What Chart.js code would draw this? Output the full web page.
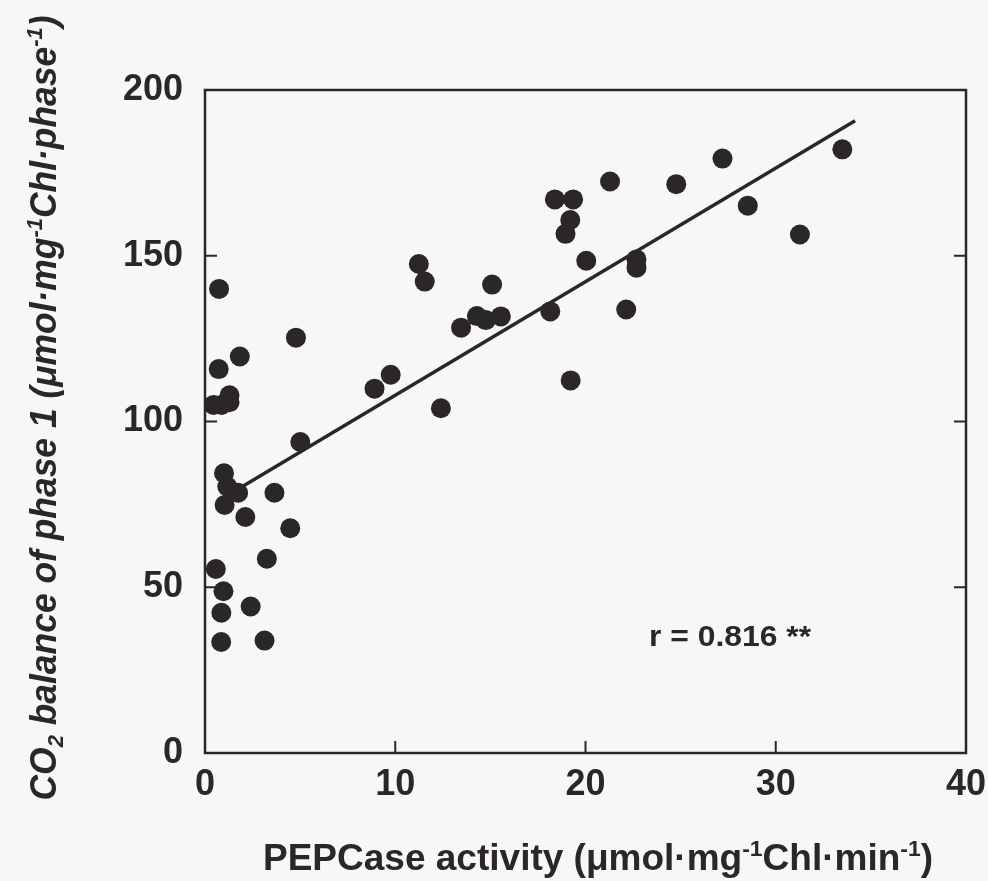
<!DOCTYPE html>
<html>
<head>
<meta charset="utf-8">
<script src="https://cdn.jsdelivr.net/npm/chart.js@4.4.1/dist/chart.umd.min.js"></script>
<style>
  html, body { margin: 0; padding: 0; background: #f7f7f9; }
  #wrap { width: 988px; height: 881px; }
</style>
</head>
<body>
<div id="wrap"><canvas id="myChart" width="988" height="881"></canvas></div>
<script>
// PEPCase activity (x) vs CO2 balance of phase 1 (y)
var pepX = [0.74, 0.72, 0.45, 0.87, 1.29, 1.29, 1.83, 4.78, 8.91, 9.76,
            12.4, 5.01, 1.0, 1.17, 1.74, 1.03, 2.12, 3.65, 4.48, 3.25,
            0.57, 0.97, 2.4, 0.86, 0.85, 3.13, 11.24, 11.55, 15.09, 13.46,
            14.29, 14.76, 15.55, 18.15, 19.22, 22.14, 22.68, 22.68, 20.04, 18.39,
            19.35, 19.2, 18.95, 21.29, 24.77, 27.2, 28.53, 31.27, 33.5];
var co2Y = [140.0, 115.8, 105.0, 105.0, 107.9, 105.8, 119.6, 125.3, 109.9, 114.1,
            104.0, 93.8, 84.4, 80.4, 78.5, 74.8, 71.2, 78.5, 67.8, 58.6,
            55.5, 48.8, 44.2, 42.3, 33.5, 33.9, 147.5, 142.2, 141.3, 128.3,
            131.8, 130.6, 131.7, 133.2, 112.4, 133.8, 148.9, 146.4, 148.5, 167.0,
            167.0, 160.8, 156.6, 172.4, 171.6, 179.3, 165.1, 156.4, 182.1];

// regression line end points
var fitX = [1.9, 34.17];
var fitY = [80.2, 190.7];

var xTicks = [0, 10, 20, 30, 40];
var yTicks = [0, 50, 100, 150, 200];

var ink = '#2b2628';

var points = pepX.map(function(v, i) { return { x: v, y: co2Y[i] }; });
var fit = fitX.map(function(v, i) { return { x: v, y: fitY[i] }; });

// draws text made of pieces, some raised or lowered, squeezed to a width
function richText(ctx, parts, size, style, cx, cy, width, angle) {
    ctx.save();
    ctx.translate(cx, cy);
    ctx.rotate(angle);
    var total = 0;
    parts.forEach(function(p) {
        var s = p.s ? size * 0.62 : size;
        ctx.font = style + ' ' + s + 'px "Liberation Sans", Arial, sans-serif';
        p.w = ctx.measureText(p.t).width;
        total += p.w;
    });
    var k = width / total;
    ctx.scale(k, 1);
    ctx.fillStyle = ink;
    ctx.textBaseline = 'alphabetic';
    var x = -total / 2;
    parts.forEach(function(p) {
        var s = p.s ? size * 0.62 : size;
        ctx.font = style + ' ' + s + 'px "Liberation Sans", Arial, sans-serif';
        var dy = size * 0.36;
        if (p.s === 'up') dy -= size * 0.38;
        if (p.s === 'down') dy += size * 0.2;
        ctx.fillText(p.t, x, dy);
        x += p.w;
    });
    ctx.restore();
}

var framePlugin = {
    id: 'frame',
    afterDraw: function(chart) {
        var ctx = chart.ctx;
        var a = chart.chartArea;
        var xs = chart.scales.x, ys = chart.scales.y;
        ctx.save();
        ctx.strokeStyle = ink;
        ctx.lineWidth = 2.5;
        ctx.strokeRect(a.left, a.top, a.right - a.left, a.bottom - a.top);
        ctx.lineWidth = 2;
        ctx.beginPath();
        xTicks.slice(1, -1).forEach(function(v) {
            var px = xs.getPixelForValue(v);
            ctx.moveTo(px, a.bottom);
            ctx.lineTo(px, a.bottom - 12);
        });
        yTicks.slice(1, -1).forEach(function(v) {
            var py = ys.getPixelForValue(v);
            ctx.moveTo(a.left, py);
            ctx.lineTo(a.left + 12, py);
            ctx.moveTo(a.right, py);
            ctx.lineTo(a.right - 12, py);
        });
        ctx.stroke();
        ctx.restore();

        // r value
        richText(ctx, [{ t: 'r = 0.816 **' }], 29, 'bold',
                 xs.getPixelForValue(27.6), ys.getPixelForValue(35.3), 162, 0);

        // axis titles
        richText(ctx, [
            { t: 'PEPCase activity (\u03bcmol\u00b7mg' }, { t: '-1', s: 'up' },
            { t: 'Chl\u00b7min' }, { t: '-1', s: 'up' }, { t: ')' }
        ], 36, 'bold', 598, 857, 670, 0);

        richText(ctx, [
            { t: 'CO' }, { t: '2', s: 'down' },
            { t: ' balance of phase 1 (\u03bcmol\u00b7mg' }, { t: '-1', s: 'up' },
            { t: 'Chl\u00b7phase' }, { t: '-1', s: 'up' }, { t: ')' }
        ], 36, 'italic bold', 43, 408, 785, -Math.PI / 2);
    }
};

var ctx = document.getElementById('myChart').getContext('2d');

var myChart = new Chart(ctx, {
    type: 'scatter',
    data: {
        datasets: [{
            data: points,
            backgroundColor: ink,
            borderColor: ink,
            pointRadius: 10,
            pointHoverRadius: 10,
            borderWidth: 0
        }, {
            type: 'line',
            data: fit,
            borderColor: ink,
            borderWidth: 3.5,
            pointRadius: 0,
            fill: false
        }]
    },
    options: {
        responsive: false,
        animation: false,
        events: [],
        plugins: {
            legend: { display: false },
            tooltip: { enabled: false }
        },
        layout: {
            padding: { left: 0, right: 22, top: 90, bottom: 0 }
        },
        scales: {
            x: {
                type: 'linear',
                min: 0,
                max: 40,
                afterBuildTicks: function(s) { s.ticks = xTicks.map(function(v) { return { value: v }; }); },
                afterFit: function(s) {
                    s.height = 128;
                    s.paddingLeft = 0;
                    s.paddingRight = 0;
                },
                grid: { display: false, drawTicks: false },
                border: { display: false },
                ticks: {
                    padding: 10,
                    color: ink,
                    font: { family: '"Liberation Sans", Arial, sans-serif', size: 36, weight: 'bold' },
                    maxRotation: 0
                }
            },
            y: {
                type: 'linear',
                min: 0,
                max: 200,
                afterBuildTicks: function(s) { s.ticks = yTicks.map(function(v) { return { value: v }; }); },
                afterFit: function(s) {
                    s.width = 205;
                    s.paddingTop = 0;
                    s.paddingBottom = 0;
                },
                grid: { display: false, drawTicks: false },
                border: { display: false },
                ticks: {
                    padding: 22,
                    color: ink,
                    font: { family: '"Liberation Sans", Arial, sans-serif', size: 36, weight: 'bold' }
                }
            }
        }
    },
    plugins: [framePlugin]
});
</script>
</body>
</html>
